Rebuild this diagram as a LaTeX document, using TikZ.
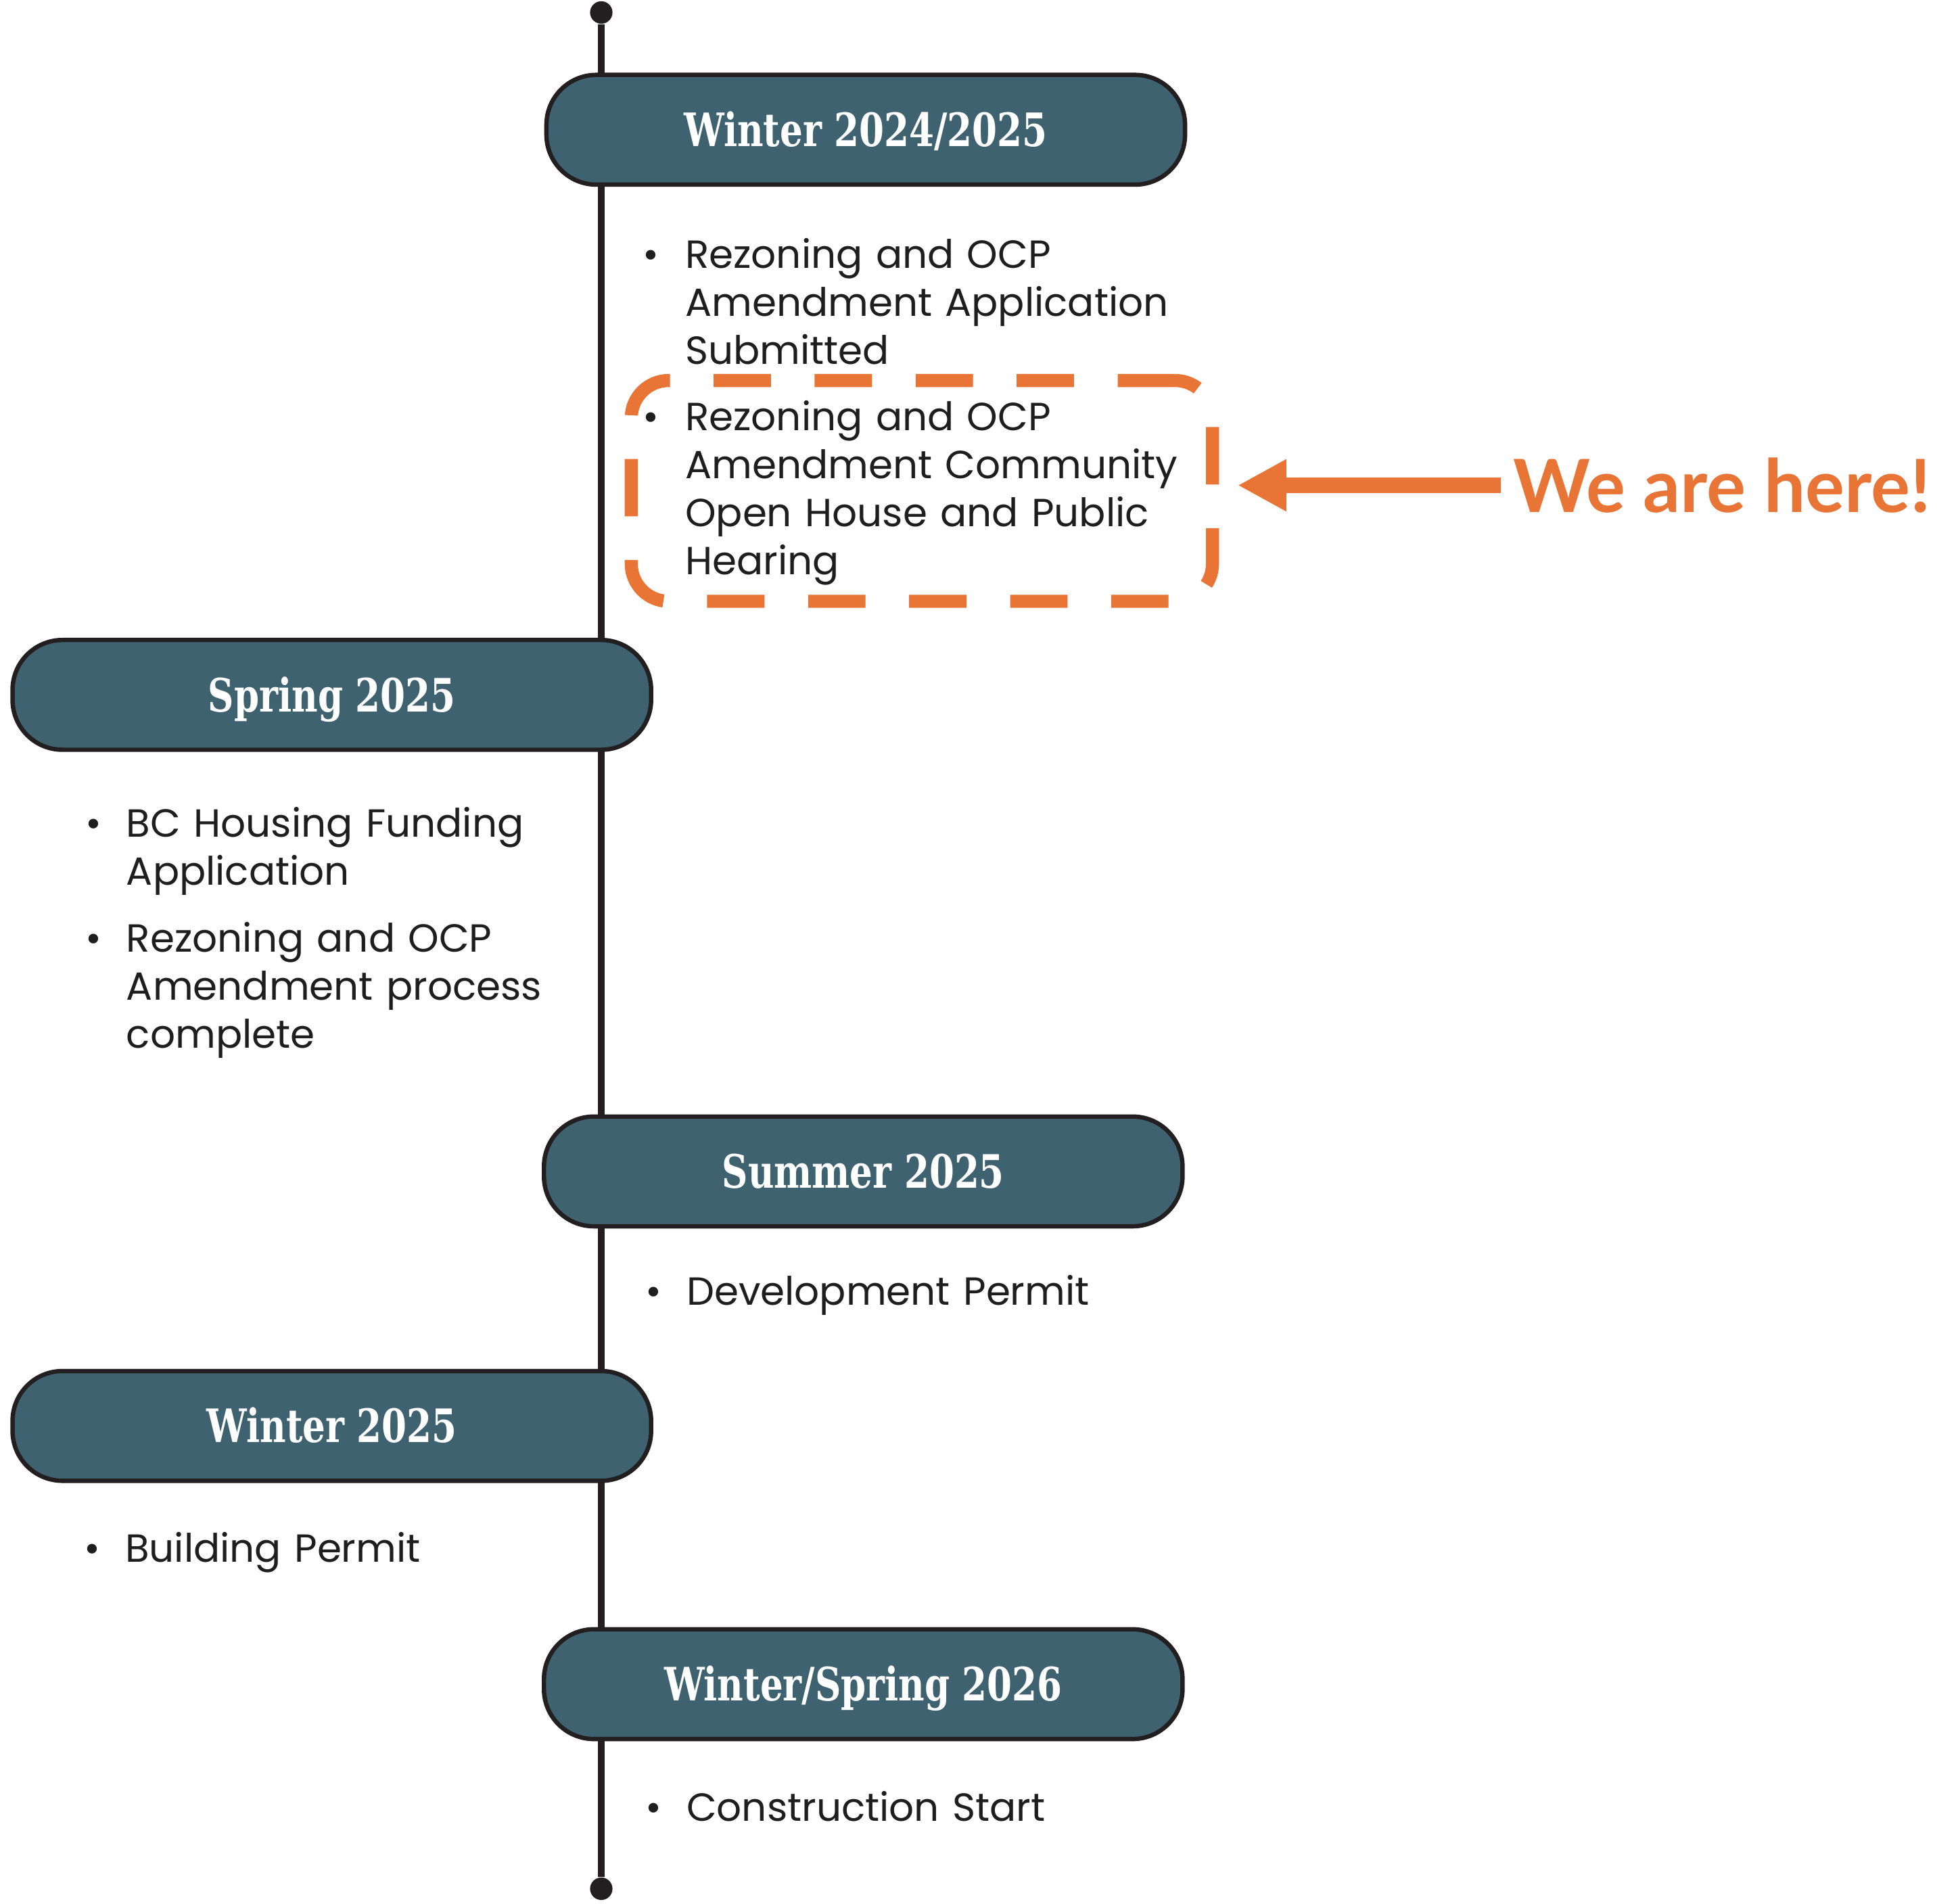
\documentclass[tikz,border=0pt]{standalone}
\usepackage{fontspec}
\setmainfont{Poppins}
\newfontfamily\headfont[FakeStretch=0.78]{DejaVu Serif}
\newfontfamily\herefont{Lato}
\usepackage{xcolor}
\definecolor{tlTeal}{RGB}{62,98,112}
\definecolor{tlOrange}{RGB}{232,116,54}
\definecolor{tlInk}{RGB}{35,31,32}
\definecolor{tlText}{RGB}{30,30,30}
\usetikzlibrary{positioning,arrows.meta}

\begin{document}
\begin{tikzpicture}[x=0.02cm,y=-0.02cm,
  pill/.style={draw=tlInk,fill=tlTeal,line width=0.07cm,rounded corners=0.8cm,
    minimum width=10.24cm,minimum height=1.76cm,inner sep=0pt,text=white,
    font=\headfont\bfseries\fontsize{21}{25}\selectfont,text height=15.3pt,text depth=0pt},
  item/.style={anchor=base west,inner sep=0pt,text width=9cm,align=left,text=tlText,
    font=\fontsize{17.9}{21.9}\selectfont},
  bul/.style={anchor=base,inner sep=0pt,text=tlText,font=\fontsize{17.9}{21.9}\selectfont},
  tl/.style={draw=tlInk,line width=0.1cm},
  dot/.style={circle,fill=tlInk,minimum size=0.36cm,inner sep=0pt},
  herebox/.style={draw=tlOrange,line width=0.21cm,rounded corners=0.6cm,
    dash pattern=on 0.92cm off 0.7cm,minimum width=9.32cm,minimum height=3.54cm},
  herearrow/.style={tlOrange,line width=0.24cm,-{Triangle[length=0.78cm,width=0.78cm]}}]
  \fill[white] (0,0) rectangle (1568,1526);
  \useasboundingbox (0,0) rectangle (1568,1526);

  % timeline
  \node[dot] (tltop) at (482,10) {};
  \node[dot] (tlbot) at (482,1514) {};
  \draw[tl] (tltop) -- (tlbot);

  % phases
  \node[pill] (w24) at (694,104) {Winter 2024/2025};
  \node[pill] (sp25) at (266,557) {Spring 2025};
  \node[pill] (su25) at (692,939) {Summer 2025};
  \node[pill] (wi25) at (266,1143) {Winter 2025};
  \node[pill] (ws26) at (692,1350) {Winter/Spring 2026};

  % Winter 2024/2025
  \node[bul] (w24b1) at (522,215) {\textbullet};
  \node[item] (w24i1) at (549,215) {Rezoning and OCP\\Amendment Application\\Submitted};
  \node[bul] (w24b2) at (522,345) {\textbullet};
  \node[item] (w24i2) at (549,345) {Rezoning and OCP\\Amendment Community\\Open House and Public\\Hearing};

  % Spring 2025
  \node[bul] (sp25b1) at (75,671) {\textbullet};
  \node[item] (sp25i1) at (101,671) {BC Housing Funding\\Application};
  \node[bul] (sp25b2) at (75,763) {\textbullet};
  \node[item] (sp25i2) at (101,763) {Rezoning and OCP\\Amendment process\\complete};

  % Summer 2025
  \node[bul] (su25b1) at (524,1046) {\textbullet};
  \node[item] (su25i1) at (550,1046) {Development Permit};

  % Winter 2025
  \node[bul] (wi25b1) at (74,1252) {\textbullet};
  \node[item] (wi25i1) at (100,1252) {Building Permit};

  % Winter/Spring 2026
  \node[bul] (ws26b1) at (524,1460) {\textbullet};
  \node[item] (ws26i1) at (550,1460) {Construction Start};

  % current step
  \node[herebox] (hbox) at (739,393.5) {};
  \node[anchor=west,inner sep=0pt,text=tlOrange,
    font=\herefont\bfseries\fontsize{33.5}{40}\selectfont] (here) at (1213,389) {We are here!};
  \draw[herearrow,shorten <=0.2cm,shorten >=0.3cm] (here.west) -- (here.west -| hbox.east);
\end{tikzpicture}
\end{document}
